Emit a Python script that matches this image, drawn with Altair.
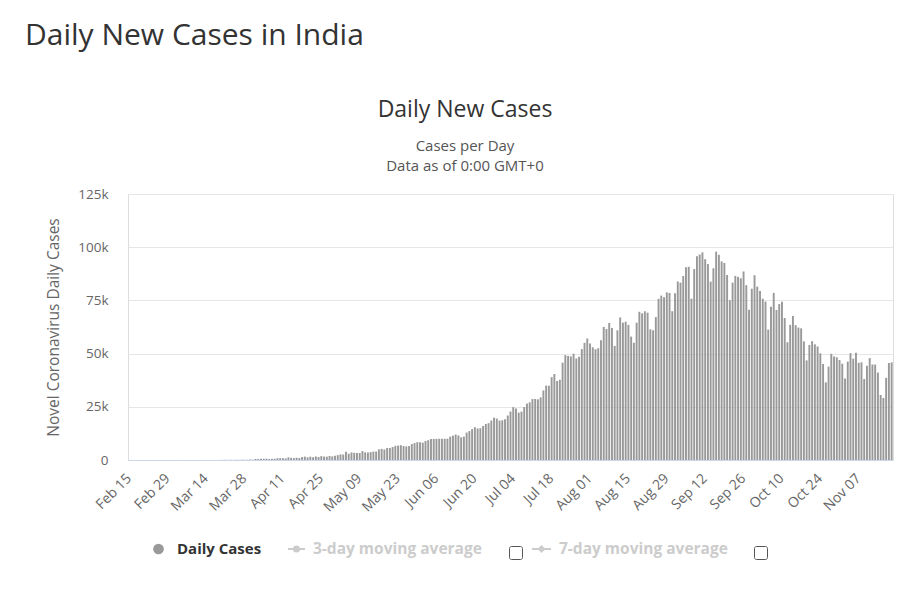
import altair as alt
import pandas as pd

FONT = "Open Sans"

page_title = "Daily New Cases in India"
chart_title = "Daily New Cases"
chart_subtitle = ["Cases per Day", "Data as of 0:00 GMT+0"]
y_title = "Novel Coronavirus Daily Cases"

# daily new cases, Feb 15 .. Nov 19 2020
feb_cases = [0, 0, 0, 0, 0, 0, 0, 0, 0, 0, 0, 0, 0, 0, 0]
mar_cases = [0, 2, 1, 22, 2, 1, 3, 5, 4, 13, 6, 11, 9, 20, 11, 6, 23, 14, 38, 50,
             86, 66, 103, 37, 121, 70, 160, 100, 112, 227, 146]
apr_cases = [437, 486, 560, 579, 609, 484, 573, 565, 813, 871, 854, 758, 1243, 1031,
             886, 1061, 922, 1371, 1580, 1239, 1537, 1292, 1667, 1408, 1835, 1607,
             1568, 1902, 1705, 1993]
may_cases = [2293, 2644, 2553, 3900, 2958, 3561, 3390, 3320, 3277, 4213, 3604, 3525,
             3722, 3967, 3970, 4987, 5242, 4970, 5611, 5609, 6088, 6654, 6767, 6977,
             6535, 6387, 6566, 7466, 7964, 8380, 8392]
jun_cases = [8171, 8909, 9304, 9851, 9887, 9971, 9983, 9987, 9985, 9996, 10956, 11458,
             11929, 11502, 10667, 10974, 12881, 13586, 14516, 15413, 14821, 14933,
             15968, 16922, 17296, 18552, 19906, 19459, 18522, 18653]
jul_cases = [19148, 20903, 22771, 24850, 24248, 22252, 22752, 24879, 26506, 27114,
             28637, 28701, 28498, 29429, 32695, 34956, 34884, 38902, 40425, 37148,
             37724, 45720, 49310, 48916, 48661, 49931, 47704, 48513, 52123, 55079,
             57118]
aug_cases = [54735, 52972, 52050, 52509, 56282, 62538, 61537, 64399, 62064, 53601,
             60963, 66999, 64553, 65002, 63490, 57981, 55079, 64531, 69652, 68898,
             69878, 69239, 61408, 60975, 67151, 75760, 77266, 76472, 78761, 78512,
             69921]
sep_cases = [78357, 83883, 83341, 86432, 90632, 90802, 75809, 89706, 95735, 96551,
             97570, 94372, 92071, 83809, 90123, 97894, 96424, 93337, 92605, 86961,
             75083, 83347, 86508, 86052, 85362, 88600, 82170, 70589, 80472, 86821]
oct_cases = [81484, 79476, 75829, 74442, 61267, 72049, 78524, 70496, 73272, 74383,
             66732, 55342, 63509, 67708, 63371, 62212, 61871, 55722, 46790, 54044,
             55839, 54366, 53370, 50129, 45148, 36470, 43893, 49881, 48648, 48268,
             46963]
nov_cases = [45231, 38310, 46253, 50209, 47638, 50357, 45674, 45903, 38073, 44281,
             47905, 44879, 44878, 41100, 30548, 29163, 38617, 45576, 45882]

cases = (feb_cases + mar_cases + apr_cases + may_cases + jun_cases + jul_cases
         + aug_cases + sep_cases + oct_cases + nov_cases)
dates = [d.strftime("%b %d") for d in pd.date_range("2020-02-15", periods=len(cases))]

tick_labels = ["Feb 15", "Feb 29", "Mar 14", "Mar 28", "Apr 11", "Apr 25", "May 09",
               "May 23", "Jun 06", "Jun 20", "Jul 04", "Jul 18", "Aug 01", "Aug 15",
               "Aug 29", "Sep 12", "Sep 26", "Oct 10", "Oct 24", "Nov 07"]
y_ticks = [0, 25000, 50000, 75000, 100000, 125000]

legend_labels = ["Daily Cases", "3-day moving average", "7-day moving average"]

df = pd.DataFrame({"date": dates, "cases": cases})

bars = alt.Chart(df).mark_bar(color="#999999").encode(
    x=alt.X(
        "date:N", sort=None,
        scale=alt.Scale(paddingInner=0.3, paddingOuter=0.15),
        axis=alt.Axis(values=tick_labels, title=None, labelAngle=-45,
                      labelAlign="right", labelBaseline="middle",
                      ticks=False, tickSize=0, labelPadding=16,
                      domain=True, domainColor="#ccd6eb", domainWidth=1,
                      grid=False, labelFont=FONT, labelFontSize=14,
                      labelColor="#666666"),
    ),
    y=alt.Y(
        "cases:Q",
        scale=alt.Scale(domain=[0, 125000], nice=False),
        axis=alt.Axis(values=y_ticks,
                      labelExpr="datum.value == 0 ? '0' : datum.value / 1000 + 'k'",
                      title=y_title, titleFont=FONT, titleFontSize=15.5,
                      titleFontWeight="normal", titleColor="#666666",
                      titleAngle=-90, titleX=-75, titleY=133,
                      titleBaseline="middle", titleAlign="center",
                      domain=False, ticks=False, tickSize=0, labelPadding=20,
                      labelFont=FONT, labelFontSize=13.5, labelColor="#666666",
                      grid=True, gridColor="#e6e6e6", gridWidth=1),
    ),
)


def one(value):
    return pd.DataFrame({"t": [value]})


def label(value, x, y, size, color, align="left", weight="normal"):
    return alt.Chart(one(value)).mark_text(
        align=align, baseline="middle", font=FONT, fontSize=size, color=color,
        fontWeight=weight,
    ).encode(text="t:N", x=alt.value(x), y=alt.value(y))


heading = label(page_title, -103, -158, 30, "#333333")
title_main = label(chart_title, 337, -84, 23, "#333333", align="center")
sub1 = label(chart_subtitle[0], 337, -48, 15, "#555555", align="center")
sub2 = label(chart_subtitle[1], 337, -28.5, 15, "#555555", align="center")

LY = 355

leg_dot = alt.Chart(one(legend_labels[0])).mark_point(
    shape="circle", filled=True, size=115, color="#999999", opacity=1
).encode(x=alt.value(30.5), y=alt.value(LY))
leg_text1 = label(legend_labels[0], 49, LY, 15, "#333333", weight="bold")

leg_line2 = alt.Chart(one(legend_labels[1])).mark_rule(
    color="#cccccc", strokeWidth=2
).encode(x=alt.value(160), x2=alt.value(177), y=alt.value(LY))
leg_dot2 = alt.Chart(one(legend_labels[1])).mark_point(
    shape="circle", filled=True, size=50, color="#cccccc", opacity=1
).encode(x=alt.value(168.5), y=alt.value(LY))
leg_text2 = label(legend_labels[1], 185, LY, 15.5, "#cccccc", weight="bold")
box2 = alt.Chart(one(legend_labels[1])).mark_rect(
    fill="white", stroke="#555555", strokeWidth=1, cornerRadius=2
).encode(x=alt.value(381.5), x2=alt.value(394.5), y=alt.value(352.5),
         y2=alt.value(365.5))

leg_line3 = alt.Chart(one(legend_labels[2])).mark_rule(
    color="#cccccc", strokeWidth=2
).encode(x=alt.value(404), x2=alt.value(423), y=alt.value(LY))
leg_dot3 = alt.Chart(one(legend_labels[2])).mark_point(
    shape="diamond", filled=True, size=65, color="#cccccc", opacity=1
).encode(x=alt.value(413.5), y=alt.value(LY))
leg_text3 = label(legend_labels[2], 431, LY, 15.5, "#cccccc", weight="bold")
box3 = alt.Chart(one(legend_labels[2])).mark_rect(
    fill="white", stroke="#555555", strokeWidth=1, cornerRadius=2
).encode(x=alt.value(626.5), x2=alt.value(639.5), y=alt.value(352.5),
         y2=alt.value(365.5))

chart = alt.layer(
    bars, heading, title_main, sub1, sub2,
    leg_dot, leg_text1, leg_line2, leg_dot2, leg_text2, box2,
    leg_line3, leg_dot3, leg_text3, box3,
).properties(
    width=765,
    height=266,
    autosize=alt.AutoSizeParams(type="none"),
    padding={"left": 120, "top": 186, "right": 8, "bottom": 118},
).configure_view(stroke=None).configure(background="white")

chart.save("out.html", embed_options={"renderer": "svg", "actions": False})
